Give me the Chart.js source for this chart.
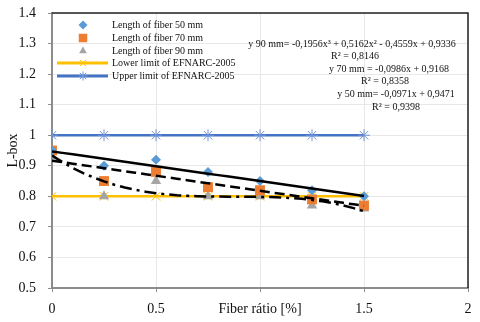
<!DOCTYPE html>
<html><head><meta charset="utf-8">
<script src="https://cdn.jsdelivr.net/npm/chart.js@4/dist/chart.umd.min.js"></script>
<style>html,body{margin:0;padding:0;background:#fff}#w{width:480px;height:322px}</style>
</head><body><div id="w"><canvas id="c" width="480" height="322"></canvas></div>
<script>
const fiberRatio = [0, 0.25, 0.5, 0.75, 1, 1.25, 1.5];
const fiber50 = [0.95, 0.90, 0.92, 0.88, 0.85, 0.82, 0.80];
const fiber70 = [0.95, 0.85, 0.88, 0.83, 0.82, 0.79, 0.77];
const fiber90 = [0.93, 0.80, 0.85, 0.80, 0.80, 0.77, 0.76];
const lowerLimit = [0.8, 0.8, 0.8, 0.8, 0.8, 0.8, 0.8];
const upperLimit = [1, 1, 1, 1, 1, 1, 1];
// trendline coefficients (constant, x, x^2, x^3) read from the equations
const trend50 = [0.9471, -0.0971];
const trend70 = [0.9168, -0.0986];
const trend90 = [0.9336, -0.4559, 0.5162, -0.1956];
const equations = [
  "y 90 mm= -0,1956x\u00B3 + 0,5162x\u00B2 - 0,4559x + 0,9336", "R\u00B2 = 0,8146",
  "y 70 mm = -0,0986x + 0,9168", "R\u00B2 = 0,8358",
  "y 50 mm= -0,0971x + 0,9471", "R\u00B2 = 0,9398"
];
const xTicks = ["0", "0.5", "Fiber r\u00E1tio [%]", "1.5", "2"];

const pts = (ys) => fiberRatio.map((x, i) => ({x, y: ys[i]}));
const curve = (c) => {
  const out = [];
  for (let i = 0; i <= 30; i++) {
    const x = i * 0.05;
    let y = 0;
    c.forEach((k, p) => { y += k * Math.pow(x, p); });
    out.push({x, y});
  }
  return out;
};
const serif = "'Liberation Serif', 'DejaVu Serif', serif";

const datasets = [
  {label: "Length of fiber 50 mm", data: pts(fiber50), showLine: false, pointStyle: 'rectRot', pointRadius: 5, backgroundColor: '#5B9BD5', borderColor: '#5B9BD5', borderWidth: 0, order: 1, legend: true},
  {label: "Length of fiber 70 mm", data: pts(fiber70), showLine: false, pointStyle: 'rect', pointRadius: 7, backgroundColor: '#ED7D31', borderColor: '#ED7D31', borderWidth: 0, order: 1, legend: true},
  {label: "Length of fiber 90 mm", data: pts(fiber90), showLine: false, pointStyle: 'triangle', pointRadius: 6, backgroundColor: '#A5A5A5', borderColor: '#A5A5A5', borderWidth: 0, order: 1, legend: true},
  {label: "Lower limit of EFNARC-2005", data: pts(lowerLimit), showLine: true, borderColor: '#FFC000', backgroundColor: '#FFC000', borderWidth: 2.5, pointStyle: 'crossRot', pointRadius: 6, pointBorderWidth: 1, order: 2, legend: true},
  {label: "Upper limit of EFNARC-2005", data: pts(upperLimit), showLine: true, borderColor: '#4472C4', backgroundColor: '#4472C4', borderWidth: 2.5, pointStyle: 'star', pointRadius: 6, pointBorderColor: '#6F93D8', pointBorderWidth: 1, order: 2, legend: true},
  {label: "trend50", data: curve(trend50), showLine: true, borderColor: '#000', borderWidth: 2.5, pointRadius: 0, order: 0},
  {label: "trend70", data: curve(trend70), showLine: true, borderColor: '#000', borderWidth: 2.5, borderDash: [10, 5], pointRadius: 0, order: 0},
  {label: "trend90", data: curve(trend90), showLine: true, borderColor: '#000', borderWidth: 2.5, borderDash: [12, 5, 3, 5], pointRadius: 0, order: 0}
];

const overlay = {
  id: 'overlay',
  afterDatasetsDraw(chart) {
    const ctx = chart.ctx, a = chart.chartArea;
    ctx.save();
    // top and right frame
    ctx.strokeStyle = '#222'; ctx.lineWidth = 1.5;
    ctx.beginPath(); ctx.moveTo(a.left, a.top); ctx.lineTo(a.right, a.top); ctx.lineTo(a.right, a.bottom); ctx.stroke();
    // legend
    ctx.font = "10px " + serif; ctx.textBaseline = 'middle'; ctx.textAlign = 'left';
    const rows = [25, 38, 51, 63, 76];
    const mx = 83;
    chart.data.datasets.filter(d => d.legend).forEach((d, i) => {
      const y = rows[i];
      if (d.showLine) {
        ctx.strokeStyle = d.borderColor; ctx.lineWidth = 3; ctx.setLineDash([]);
        ctx.beginPath(); ctx.moveTo(57, y); ctx.lineTo(108, y); ctx.stroke();
      }
      ctx.fillStyle = d.backgroundColor; ctx.strokeStyle = d.pointBorderColor || d.borderColor; ctx.lineWidth = 1;
      Chart.helpers.drawPoint(ctx, {pointStyle: d.pointStyle, radius: d.pointStyle === 'rect' ? 6 : 4.5, rotation: 0, borderWidth: d.showLine ? 1 : 0}, mx, y);
      ctx.fillStyle = '#111';
      ctx.fillText(d.label, 112, y + 0.5);
    });
    // equations
    ctx.textAlign = 'center';
    const eq = [[352, 44], [355, 56], [389, 69], [385, 81], [396, 94], [396, 107]];
    equations.forEach((t, i) => ctx.fillText(t, eq[i][0], eq[i][1]));
    ctx.restore();
  }
};

const zeroPad = (s) => { s.paddingTop = 0; s.paddingBottom = 0; s.paddingLeft = 0; s.paddingRight = 0; };

new Chart(document.getElementById('c'), {
  type: 'scatter',
  data: {datasets},
  options: {
    responsive: false, animation: false, devicePixelRatio: 1,
    layout: {padding: {left: 0, top: 13, right: 12, bottom: 0}},
    plugins: {legend: {display: false}, tooltip: {enabled: false}},
    elements: {line: {tension: 0}},
    scales: {
      x: {
        type: 'linear', min: 0, max: 2,
        afterFit(s) { s.height = 34; zeroPad(s); },
        border: {color: '#8c8c8c', width: 2},
        grid: {color: '#e8e8e8', tickColor: '#8c8c8c', tickLength: 4},
        ticks: {stepSize: 0.5, autoSkip: false, maxRotation: 0, padding: 9, color: '#111',
          font: {family: serif, size: 14},
          callback: (v) => xTicks[Math.round(v * 2)]}
      },
      y: {
        type: 'linear', min: 0.5, max: 1.4,
        afterFit(s) { s.width = 52; zeroPad(s); },
        border: {color: '#8c8c8c', width: 2},
        grid: {color: '#e8e8e8', tickColor: '#8c8c8c', tickLength: 4},
        title: {display: true, text: 'L-box', color: '#111', font: {family: serif, size: 14}, padding: {top: 5, bottom: -8}},
        ticks: {stepSize: 0.1, padding: 12, color: '#111', font: {family: serif, size: 14},
          callback: (v) => String(parseFloat(v.toFixed(1)))}
      }
    }
  },
  plugins: [overlay]
});
</script>
</body></html>
